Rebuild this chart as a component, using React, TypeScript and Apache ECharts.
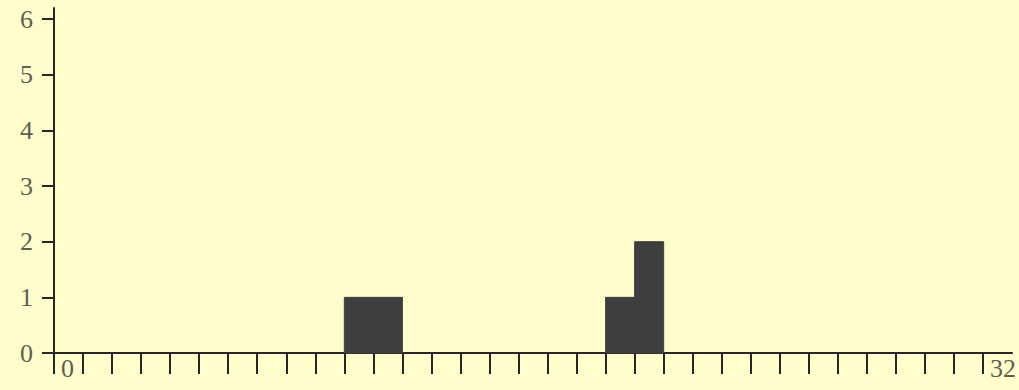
import React, { useEffect, useRef } from "react";
import * as echarts from "echarts";

// Histogram bins (bin start, width 1) and their counts
const binStarts: number[] = Array.from({ length: 32 }, (_, i) => i);
const counts: number[] = [
  0, 0, 0, 0, 0, 0, 0, 0, 0, 0,
  1, 1, 0, 0, 0, 0, 0, 0, 0, 1,
  2, 0, 0, 0, 0, 0, 0, 0, 0, 0,
  0, 0,
];
const xTickValues: number[] = Array.from({ length: 33 }, (_, i) => i);
const xLabelValues: number[] = [0, 32];
const yTickValues: number[] = [0, 1, 2, 3, 4, 5, 6];

export default function App() {
  const ref = useRef<HTMLDivElement>(null);
  useEffect(() => {
    document.body.style.margin = "0";
    const chart = echarts.init(ref.current!, null, { renderer: "svg" });
    const axisColor = "#262626";
    const labelFont = {
      fontFamily: "Liberation Serif",
      fontSize: 26,
      color: "#5e5e52",
    };
    chart.setOption({
      animation: false,
      backgroundColor: "#fffdcc",
      grid: { left: 54, right: 6, top: 8, bottom: 37 },
      xAxis: {
        type: "value",
        min: 0,
        max: 33,
        splitLine: { show: false },
        axisLine: { show: true, lineStyle: { color: axisColor, width: 2 } },
        axisTick: {
          show: true,
          inside: false,
          length: 21,
          customValues: xTickValues,
          lineStyle: { color: axisColor, width: 2 },
        },
        axisLabel: {
          show: true,
          customValues: xLabelValues,
          ...labelFont,
          align: "left",
          verticalAlign: "top",
          margin: 2,
          padding: [0, 0, 0, 7],
        },
      },
      yAxis: {
        type: "value",
        min: 0,
        max: 6.2,
        splitLine: { show: false },
        axisLine: { show: true, lineStyle: { color: axisColor, width: 2 } },
        axisTick: {
          show: true,
          length: 12,
          customValues: yTickValues,
          lineStyle: { color: axisColor, width: 2 },
        },
        axisLabel: {
          show: true,
          customValues: yTickValues,
          ...labelFont,
          margin: 21,
        },
      },
      series: [
        {
          type: "custom",
          data: binStarts.map((b, i) => [b, counts[i]]),
          renderItem: (params: any, api: any) => {
            const x0 = api.value(0);
            const v = api.value(1);
            if (!v) return null;
            const p1 = api.coord([x0, v]);
            const p2 = api.coord([x0 + 1, 0]);
            return {
              type: "rect",
              shape: { x: p1[0], y: p1[1], width: p2[0] - p1[0], height: p2[1] - p1[1] },
              style: { fill: "#3e3e3e", stroke: "#3e3e3e", lineWidth: 1 },
            };
          },
          z: 1,
        },
      ],
    });
    return () => chart.dispose();
  }, []);
  return (
    <div
      ref={ref}
      style={{ position: "absolute", left: 0, top: 0, width: 1019, height: 390 }}
    />
  );
}
